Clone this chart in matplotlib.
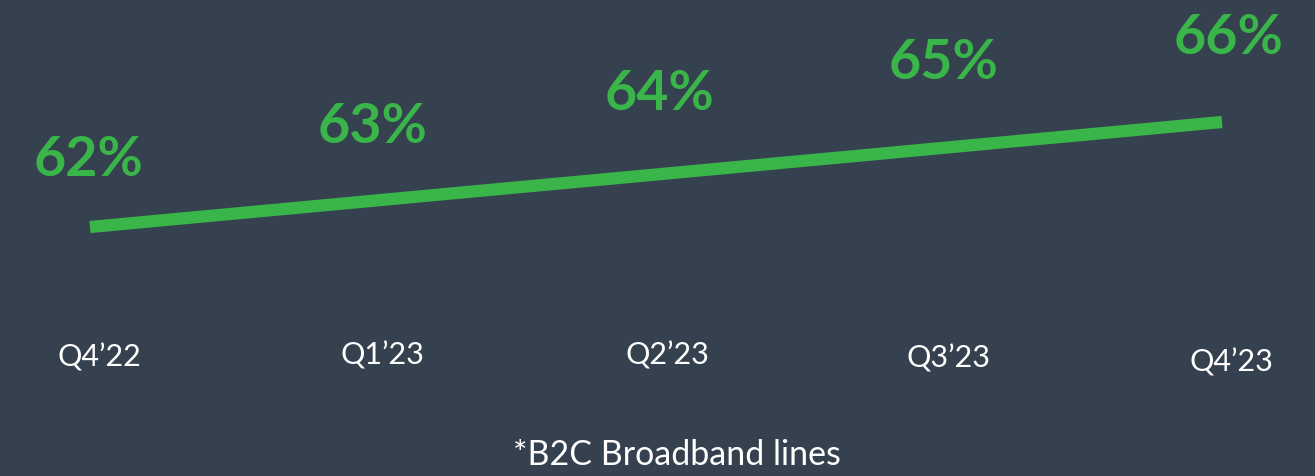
import matplotlib
matplotlib.use("Agg")
import matplotlib.pyplot as plt

# data
quarters = ["Q4\u201922", "Q1\u201923", "Q2\u201923", "Q3\u201923", "Q4\u201923"]
share = [62, 63, 64, 65, 66]
footnote = "*B2C Broadband lines"

BG = "#35414f"
GREEN = "#39b54a"

plt.rcParams["font.family"] = ["Lato", "DejaVu Sans"]

fig = plt.figure(figsize=(13.15, 4.77), dpi=100)
fig.patch.set_facecolor(BG)
ax = fig.add_axes([0, 0, 1, 1])
ax.set_facecolor(BG)

x = list(range(len(quarters)))
ax.plot(x, share, color=GREEN, linewidth=8.8, solid_capstyle="butt")

# pixel offsets of the value labels above the line (they drift a bit in the original)
label_dy = [68, 75, 81, 86, 85]
label_dx = [-2, 0, 3, 5, 7]
for xi, v, dx, dy in zip(x, share, label_dx, label_dy):
    ax.annotate("%d%%" % v, (xi, v), xytext=(dx * 0.72, dy * 0.72),
                textcoords="offset points", ha="center", va="center",
                color=GREEN, fontsize=40, fontweight="bold")

# quarter labels along the bottom
q_x = [99, 382, 667, 948, 1231]
q_y = [357, 355, 355, 358, 362]
for name, px, py in zip(quarters, q_x, q_y):
    fig.text(px / 1315, 1 - py / 477, name, ha="center", va="center",
             color="white", fontsize=22)

fig.text(677 / 1315, 1 - 455 / 477, footnote, ha="center", va="center",
         color="white", fontsize=24.5)

# map data units onto the pixel layout of the reference
ax.set_xlim(-90 / 283, 4 + 93 / 283)
ax.set_ylim(62 - 249 / 26.25, 66 + 123 / 26.25)
ax.axis("off")

fig.savefig("out.png", dpi=100, facecolor=BG)
